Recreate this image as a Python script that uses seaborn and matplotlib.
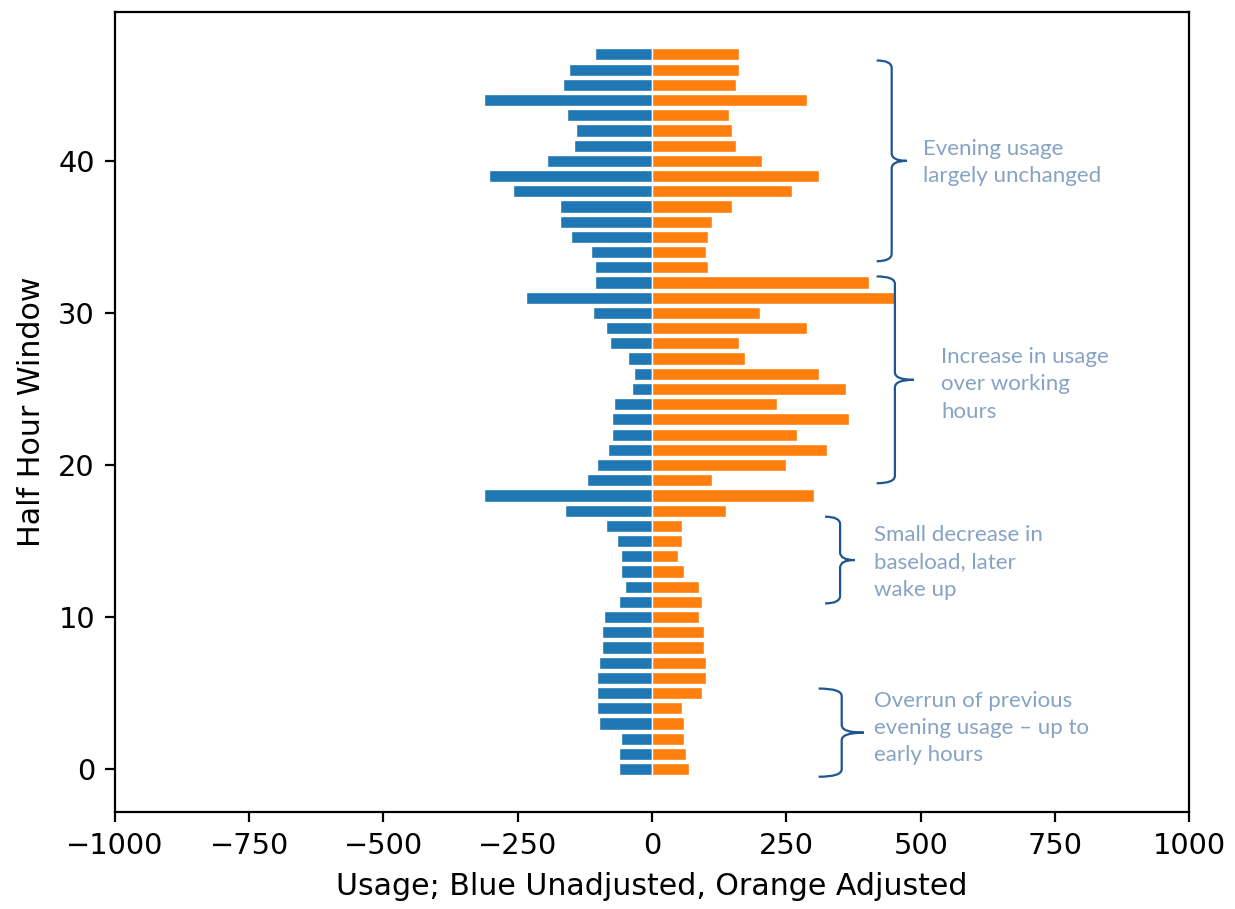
import matplotlib
matplotlib.use("Agg")
import matplotlib.pyplot as plt
from matplotlib.path import Path
from matplotlib.patches import PathPatch
import numpy as np
import pandas as pd
import seaborn as sns

# half hour windows 0..47, usage
windows = list(range(48))
unadjusted = [61, 61, 58, 98, 102, 102, 102, 98, 94, 94,
              90, 61, 50, 58, 58, 66, 86, 163, 312, 122,
              102, 82, 74, 74, 70, 37, 33, 45, 78, 86,
              110, 235, 106, 106, 114, 150, 171, 171, 259, 304,
              195, 146, 142, 158, 312, 166, 154, 106]
adjusted = [68, 64, 60, 60, 56, 92, 100, 100, 96, 96,
            88, 92, 88, 60, 48, 56, 56, 137, 302, 112,
            249, 326, 269, 367, 233, 361, 310, 173, 161, 289,
            200, 454, 404, 104, 100, 104, 112, 148, 261, 310,
            205, 156, 148, 144, 289, 156, 161, 161]

notes = ["Evening usage\nlargely unchanged",
         "Increase in usage\nover working\nhours",
         "Small decrease in\nbaseload, later\nwake up",
         "Overrun of previous\nevening usage \u2013 up to\nearly hours"]

sns.set_style("ticks")
plt.rcParams.update({
    "axes.edgecolor": "black", "axes.linewidth": 1.6,
    "xtick.color": "black", "ytick.color": "black",
    "xtick.major.size": 7.3, "ytick.major.size": 7.3,
    "xtick.major.width": 1.6, "ytick.major.width": 1.6,
    "xtick.major.pad": 7.0, "ytick.major.pad": 7.0,
    "xtick.labelsize": 20.8, "ytick.labelsize": 20.8,
    "axes.labelsize": 21.6, "axes.labelcolor": "black",
    "axes.labelpad": 9.0,
    "text.color": "#262626",
    "font.family": ["DejaVu Sans"],
})

df = pd.DataFrame({"window": windows,
                   "unadj": -np.array(unadjusted),
                   "adj": adjusted})

fig = plt.figure(figsize=(12.35, 9.09), dpi=100)
ax = fig.add_axes([0.093, 0.107, 0.870, 0.880])

sns.barplot(data=df, x="unadj", y="window", orient="h", native_scale=True,
            color="#1f77b4", saturation=1, width=0.8, ax=ax)
sns.barplot(data=df, x="adj", y="window", orient="h", native_scale=True,
            color="#ff7f0e", saturation=1, width=0.8, ax=ax)

ax.set_xlim(-1000, 1000)
ax.set_ylim(-2.8, 49.8)
ax.set_xticks([-1000, -750, -500, -250, 0, 250, 500, 750, 1000])
ax.set_yticks([0, 10, 20, 30, 40])
ax.set_xlabel("Usage; Blue Unadjusted, Orange Adjusted")
ax.set_ylabel("Half Hour Window")
for side in ["top", "right"]:
    ax.spines[side].set_visible(True)


def brace(ax, x_end, x_mid, x_tip, y_top, y_bot):
    ym = (y_top + y_bot) / 2
    d = 0.5
    verts = [(x_end, y_top), (x_mid, y_top), (x_mid, y_top - d),
             (x_mid, ym + d), (x_mid, ym), (x_tip, ym),
             (x_mid, ym), (x_mid, ym - d),
             (x_mid, y_bot + d), (x_mid, y_bot), (x_end, y_bot)]
    codes = [Path.MOVETO, Path.CURVE3, Path.CURVE3,
             Path.LINETO, Path.CURVE3, Path.CURVE3,
             Path.CURVE3, Path.CURVE3,
             Path.LINETO, Path.CURVE3, Path.CURVE3]
    ax.add_patch(PathPatch(Path(verts, codes), fill=False, ec="#1f5591",
                           lw=1.6, clip_on=False))


braces = [(418, 446, 474, 46.6, 33.4),
          (418, 452, 487, 32.4, 18.8),
          (322, 350, 377, 16.6, 10.9),
          (310, 353, 394, 5.3, -0.5)]
text_pos = [(505, 39.9), (538, 25.3), (413, 13.6), (413, 2.7)]

for b, (tx, ty), note in zip(braces, text_pos, notes):
    brace(ax, *b)
    ax.text(tx, ty, note, ha="left", va="center", fontsize=16,
            color="#86a3c4", family=["Lato", "DejaVu Sans"], linespacing=1.45)

fig.savefig("out.png", dpi=100)
